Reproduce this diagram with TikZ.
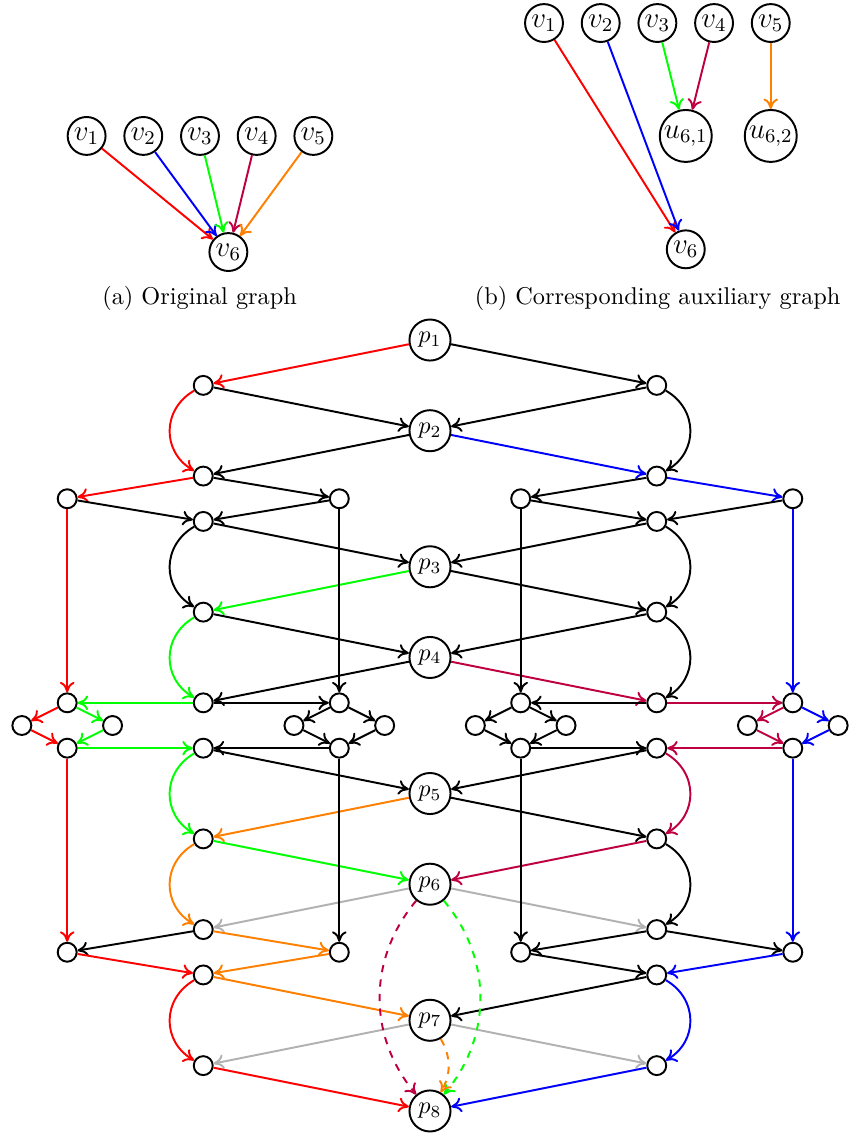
\documentclass[tikz,border=0pt]{standalone}
\usetikzlibrary{arrows.meta}

\tikzstyle{vertex} = [draw, circle, minimum size=15.6pt, inner sep=1pt, font=\large]
\tikzstyle{aux} = [vertex, minimum size=21.4pt, inner sep=0pt]
\tikzstyle{proc} = [draw, circle, minimum size=16.9pt, inner sep=1pt]
\tikzstyle{dot} = [draw, circle, minimum size=7.8pt, inner sep=0pt]
\tikzstyle{fade} = [black!30]
\tikzstyle{loopl} = [bend right=60, looseness=1.2]
\tikzstyle{loopr} = [bend left=60, looseness=1.2]

\begin{document}
\begin{tikzpicture}[x=1.312cm, y=1.312cm, thick,
    >={Computer Modern Rightarrow[length=4.3pt,width=6pt]}]
    \useasboundingbox (-4.741,-8.754) rectangle (4.642,3.749);

    % (a) the original graph
    \node [vertex] (a1) at (-3.786,2.25) {$v_1$};
    \node [vertex] (a2) at (-3.161,2.25) {$v_2$};
    \node [vertex] (a3) at (-2.536,2.25) {$v_3$};
    \node [vertex] (a4) at (-1.911,2.25) {$v_4$};
    \node [vertex] (a5) at (-1.286,2.25) {$v_5$};
    \node [vertex] (a6) at (-2.223,0.97) {$v_6$};
    \node (capa) at (-2.54,0.46) {(a) Original graph};

    \draw [->, red] (a1) -- (a6);
    \draw [->, blue] (a2) -- (a6);
    \draw [->, green] (a3) -- (a6);
    \draw [->, purple] (a4) -- (a6);
    \draw [->, orange] (a5) -- (a6);

    % (b) the auxiliary graph
    \node [vertex] (b1) at (1.257,3.495) {$v_1$};
    \node [vertex] (b2) at (1.882,3.495) {$v_2$};
    \node [vertex] (b3) at (2.507,3.495) {$v_3$};
    \node [vertex] (b4) at (3.132,3.495) {$v_4$};
    \node [vertex] (b5) at (3.757,3.495) {$v_5$};
    \node [aux] (u1) at (2.82,2.25) {$u_{6,1}$};
    \node [aux] (u2) at (3.757,2.25) {$u_{6,2}$};
    \node [vertex] (b6) at (2.82,1.0) {$v_6$};
    \node (capb) at (2.51,0.46) {(b) Corresponding auxiliary graph};

    \draw [->, red] (b1) -- (b6);
    \draw [->, blue] (b2) -- (b6);
    \draw [->, green] (b3) -- (u1);
    \draw [->, purple] (b4) -- (u1);
    \draw [->, orange] (b5) -- (u2);

    % the p nodes down the middle
    \node [proc] (p1) at (0,0) {$p_1$};
    \node [proc] (p2) at (0,-1) {$p_2$};
    \node [proc] (p3) at (0,-2.5) {$p_3$};
    \node [proc] (p4) at (0,-3.5) {$p_4$};
    \node [proc] (p5) at (0,-5) {$p_5$};
    \node [proc] (p6) at (0,-6) {$p_6$};
    \node [proc] (p7) at (0,-7.5) {$p_7$};
    \node [proc] (p8) at (0,-8.5) {$p_8$};

    % inner columns
    \node [dot] (l1) at (-2.5,-0.5) {};
    \node [dot] (l2) at (-2.5,-1.5) {};
    \node [dot] (l3) at (-2.5,-2) {};
    \node [dot] (l4) at (-2.5,-3) {};
    \node [dot] (l5) at (-2.5,-4) {};
    \node [dot] (l6) at (-2.5,-4.5) {};
    \node [dot] (l7) at (-2.5,-5.5) {};
    \node [dot] (l8) at (-2.5,-6.5) {};
    \node [dot] (l9) at (-2.5,-7) {};
    \node [dot] (l10) at (-2.5,-8) {};
    \node [dot] (r1) at (2.5,-0.5) {};
    \node [dot] (r2) at (2.5,-1.5) {};
    \node [dot] (r3) at (2.5,-2) {};
    \node [dot] (r4) at (2.5,-3) {};
    \node [dot] (r5) at (2.5,-4) {};
    \node [dot] (r6) at (2.5,-4.5) {};
    \node [dot] (r7) at (2.5,-5.5) {};
    \node [dot] (r8) at (2.5,-6.5) {};
    \node [dot] (r9) at (2.5,-7) {};
    \node [dot] (r10) at (2.5,-8) {};

    % outer columns with their diamonds
    \node [dot] (ll1) at (-4,-1.75) {};
    \node [dot] (ll2) at (-4,-4) {};
    \node [dot] (ll3) at (-4.5,-4.25) {};
    \node [dot] (ll4) at (-3.5,-4.25) {};
    \node [dot] (ll5) at (-4,-4.5) {};
    \node [dot] (ll6) at (-4,-6.75) {};
    \node [dot] (lm1) at (-1,-1.75) {};
    \node [dot] (lm2) at (-1,-4) {};
    \node [dot] (lm3) at (-1.5,-4.25) {};
    \node [dot] (lm4) at (-0.5,-4.25) {};
    \node [dot] (lm5) at (-1,-4.5) {};
    \node [dot] (lm6) at (-1,-6.75) {};
    \node [dot] (rm1) at (1,-1.75) {};
    \node [dot] (rm2) at (1,-4) {};
    \node [dot] (rm3) at (0.5,-4.25) {};
    \node [dot] (rm4) at (1.5,-4.25) {};
    \node [dot] (rm5) at (1,-4.5) {};
    \node [dot] (rm6) at (1,-6.75) {};
    \node [dot] (rr1) at (4,-1.75) {};
    \node [dot] (rr2) at (4,-4) {};
    \node [dot] (rr3) at (3.5,-4.25) {};
    \node [dot] (rr4) at (4.5,-4.25) {};
    \node [dot] (rr5) at (4,-4.5) {};
    \node [dot] (rr6) at (4,-6.75) {};

    % p1 to p4
    \draw [->, red] (p1) -- (l1);
    \draw [->] (p1) -- (r1);
    \draw [->] (l1) -- (p2);
    \draw [->] (r1) -- (p2);
    \draw [->, red] (l1) to [loopl] (l2);
    \draw [->] (r1) to [loopr] (r2);
    \draw [->] (p2) -- (l2);
    \draw [->, blue] (p2) -- (r2);
    \draw [->, red] (l2) -- (ll1);
    \draw [->] (l2) -- (lm1);
    \draw [->] (r2) -- (rm1);
    \draw [->, blue] (r2) -- (rr1);
    \draw [->] (ll1) -- (l3);
    \draw [->] (lm1) -- (l3);
    \draw [->] (rm1) -- (r3);
    \draw [->] (rr1) -- (r3);
    \draw [->] (l3) -- (p3);
    \draw [->] (r3) -- (p3);
    \draw [->] (l3) to [loopl] (l4);
    \draw [->] (r3) to [loopr] (r4);
    \draw [->, green] (p3) -- (l4);
    \draw [->] (p3) -- (r4);
    \draw [->] (l4) -- (p4);
    \draw [->] (r4) -- (p4);
    \draw [->, green] (l4) to [loopl] (l5);
    \draw [->] (r4) to [loopr] (r5);
    \draw [->] (p4) -- (l5);
    \draw [->, purple] (p4) -- (r5);

    % down to the diamonds and through them
    \draw [->, red] (ll1) -- (ll2);
    \draw [->] (lm1) -- (lm2);
    \draw [->] (rm1) -- (rm2);
    \draw [->, blue] (rr1) -- (rr2);
    \draw [->, green] (l5) -- (ll2);
    \draw [->] (l5) -- (lm2);
    \draw [->] (r5) -- (rm2);
    \draw [->, purple] (r5) -- (rr2);
    \draw [->, red] (ll2) -- (ll3);
    \draw [->, green] (ll2) -- (ll4);
    \draw [->, red] (ll3) -- (ll5);
    \draw [->, green] (ll4) -- (ll5);
    \draw [->] (lm2) -- (lm3);
    \draw [->] (lm2) -- (lm4);
    \draw [->] (lm3) -- (lm5);
    \draw [->] (lm4) -- (lm5);
    \draw [->] (rm2) -- (rm3);
    \draw [->] (rm2) -- (rm4);
    \draw [->] (rm3) -- (rm5);
    \draw [->] (rm4) -- (rm5);
    \draw [->, purple] (rr2) -- (rr3);
    \draw [->, blue] (rr2) -- (rr4);
    \draw [->, purple] (rr3) -- (rr5);
    \draw [->, blue] (rr4) -- (rr5);
    \draw [->, green] (ll5) -- (l6);
    \draw [->] (lm5) -- (l6);
    \draw [->] (rm5) -- (r6);
    \draw [->, purple] (rr5) -- (r6);

    % p5 to p8
    \draw [->] (l6) -- (p5);
    \draw [->] (r6) -- (p5);
    \draw [->, green] (l6) to [loopl] (l7);
    \draw [->, purple] (r6) to [loopr] (r7);
    \draw [->, orange] (p5) -- (l7);
    \draw [->] (p5) -- (r7);
    \draw [->, green] (l7) -- (p6);
    \draw [->, purple] (r7) -- (p6);
    \draw [->, orange] (l7) to [loopl] (l8);
    \draw [->] (r7) to [loopr] (r8);
    \draw [->, fade] (p6) -- (l8);
    \draw [->, fade] (p6) -- (r8);
    \draw [->, red] (ll5) -- (ll6);
    \draw [->] (lm5) -- (lm6);
    \draw [->] (rm5) -- (rm6);
    \draw [->, blue] (rr5) -- (rr6);
    \draw [->] (l8) -- (ll6);
    \draw [->, orange] (l8) -- (lm6);
    \draw [->] (r8) -- (rm6);
    \draw [->] (r8) -- (rr6);
    \draw [->, red] (ll6) -- (l9);
    \draw [->, orange] (lm6) -- (l9);
    \draw [->] (rm6) -- (r9);
    \draw [->, blue] (rr6) -- (r9);
    \draw [->, orange] (l9) -- (p7);
    \draw [->] (r9) -- (p7);
    \draw [->, red] (l9) to [loopl] (l10);
    \draw [->, blue] (r9) to [loopr] (r10);
    \draw [->, fade] (p7) -- (l10);
    \draw [->, fade] (p7) -- (r10);
    \draw [->, red] (l10) -- (p8);
    \draw [->, blue] (r10) -- (p8);

    % shortcuts into p8
    \draw [->, purple, dashed] (p6) to [bend right=40] (p8);
    \draw [->, green, dashed] (p6) to [bend left=40] (p8);
    \draw [->, orange, dashed] (p7) to [bend left=30] (p8);
\end{tikzpicture}
\end{document}
